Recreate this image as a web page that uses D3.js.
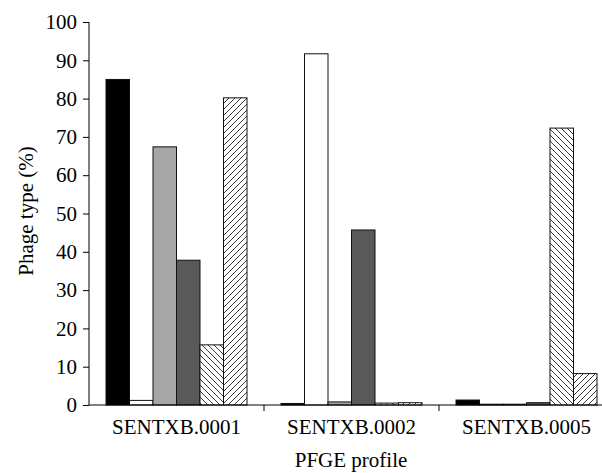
<!DOCTYPE html>
<html>
<head>
  <style>
    body { margin: 0; background: #fff; }
  </style>
</head>
<body>
  <svg width="602" height="473" font-family="Liberation Serif"></svg>
  <script src="https://d3js.org/d3.v7.min.js"></script>
  <script>
    // PFGE profiles on x, six phage type series
    const profiles = ["SENTXB.0001", "SENTXB.0002", "SENTXB.0005"];
    const seriesNames = ["s1", "s2", "s3", "s4", "s5", "s6"];
    const s1 = [85.0, 0.4, 1.3];
    const s2 = [1.2, 91.7, 0.2];
    const s3 = [67.4, 0.8, 0.2];
    const s4 = [37.8, 45.7, 0.6];
    const s5 = [15.7, 0.5, 72.3];
    const s6 = [80.2, 0.6, 8.2];
    const yTicks = [0, 10, 20, 30, 40, 50, 60, 70, 80, 90, 100];

    const seriesValues = [s1, s2, s3, s4, s5, s6];
    const fills = ["#000", "#fff", "#a6a6a6", "#595959", "url(#back)", "url(#fwd)"];

    const svg = d3.select("svg");
    const margin = {top: 22, right: -12, bottom: 68, left: 89};
    const width = 602 - margin.left - margin.right;
    const height = 473 - margin.top - margin.bottom;

    // hatch patterns
    const defs = svg.append("defs");
    function hatch(id, d) {
      const p = defs.append("pattern").attr("id", id)
        .attr("patternUnits", "userSpaceOnUse").attr("width", 6).attr("height", 6);
      p.append("rect").attr("width", 6).attr("height", 6).attr("fill", "#fff");
      p.append("path").attr("d", d).attr("stroke", "#222").attr("stroke-width", 0.9);
    }
    hatch("back", "M-1,-1 L7,7 M-1,5 L1,7 M5,-1 L7,1");
    hatch("fwd", "M-1,7 L7,-1 M-1,1 L1,-1 M5,7 L7,5");

    const g = svg.append("g").attr("transform", "translate(" + margin.left + "," + margin.top + ")");

    const x0 = d3.scaleBand().domain(profiles).range([0, width]).paddingInner(0).paddingOuter(0);
    const x1 = d3.scaleBand().domain(seriesNames).range([17, x0.bandwidth() - 17]);
    const y = d3.scaleLinear().domain([0, 100]).range([height, 0]);

    const rows = [];
    profiles.forEach(function(p, i) {
      seriesNames.forEach(function(s, j) {
        rows.push({profile: p, series: s, value: seriesValues[j][i], fill: fills[j]});
      });
    });

    g.selectAll(".bar")
      .data(rows)
      .enter()
      .append("rect")
      .attr("class", "bar")
      .attr("x", function(d) { return x0(d.profile) + x1(d.series); })
      .attr("y", function(d) { return y(d.value); })
      .attr("width", x1.bandwidth())
      .attr("height", function(d) { return height - y(d.value); })
      .attr("fill", function(d) { return d.fill; })
      .attr("stroke", "#111")
      .attr("stroke-width", 1);

    // y axis
    const yAxis = g.append("g")
      .call(d3.axisLeft(y).tickValues(yTicks).tickSize(6).tickPadding(6))
      .attr("font-family", "Liberation Serif")
      .attr("font-size", 21);
    yAxis.selectAll("text").attr("fill", "#000");
    yAxis.selectAll("line, path").attr("stroke", "#000");
    yAxis.select(".domain").attr("d", "M0," + y(100) + "V" + y(0));

    // x axis: labels centred, ticks on group boundaries
    const xAxis = g.append("g")
      .attr("transform", "translate(0," + height + ")")
      .call(d3.axisBottom(x0).tickSize(0).tickPadding(14))
      .attr("font-family", "Liberation Serif")
      .attr("font-size", 21);
    xAxis.selectAll("text").attr("fill", "#000");
    xAxis.select(".domain").attr("stroke", "#000").attr("d", "M0,0H" + width);
    xAxis.selectAll(".bound")
      .data(profiles.slice(0, -1))
      .enter()
      .append("line")
      .attr("class", "bound")
      .attr("x1", function(d) { return x0(d) + x0.bandwidth(); })
      .attr("x2", function(d) { return x0(d) + x0.bandwidth(); })
      .attr("y1", 0).attr("y2", 6)
      .attr("stroke", "#000");

    // axis titles
    svg.append("text")
      .attr("transform", "translate(33,211) rotate(-90)")
      .attr("text-anchor", "middle")
      .attr("font-family", "Liberation Serif")
      .attr("font-size", 21)
      .text("Phage type (%)");

    svg.append("text")
      .attr("x", 351)
      .attr("y", 467)
      .attr("text-anchor", "middle")
      .attr("font-family", "Liberation Serif")
      .attr("font-size", 21)
      .text("PFGE profile");
  </script>
</body>
</html>
